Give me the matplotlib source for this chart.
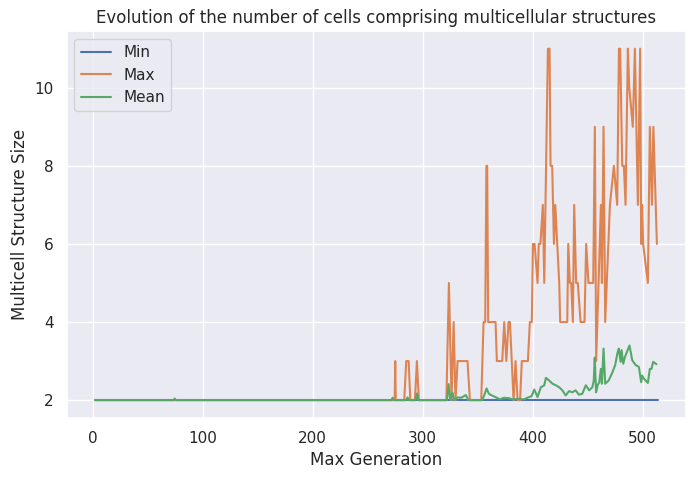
import matplotlib
matplotlib.use("Agg")
import matplotlib.pyplot as plt
import seaborn as sns

# ---- data ----
min_gen = [2, 514]
min_vals = [2, 2]

max_gen = [2, 274.5, 275, 275.5, 283.2, 285, 287.2, 288.7, 292.9, 294.7, 296.5,
           321.5, 323.8, 326.2, 328.1, 329.8, 331.7, 340.7, 342.9, 353.2, 355.3,
           356.8, 357.9, 358.6, 359.5, 366.2, 367.4, 372.3, 374.1, 376, 378, 379.3,
           382.6, 384.4, 386.2, 388.5, 390.1, 395.6, 397.4, 399.2, 400.2, 401.7,
           404.4, 405.5, 407, 409.2, 410.5, 413.8, 415.3, 416.2, 417.7, 419.3,
           420.5, 424.1, 425, 431.4, 432.3, 433.8, 435, 436.5, 437.7, 439.5, 441,
           443.5, 447.1, 448.6, 450.7, 455, 456.5, 457.7, 462, 462.9, 464.4, 465.9,
           470.2, 473.8, 476.8, 478.4, 479.5, 481.4, 482.9, 484.4, 486.5, 487.8,
           491, 492.9, 495.6, 497.7, 498.6, 499.5, 500.4, 504.7, 506.5, 508.4,
           509.7, 512.9]
max_vals = [2, 2, 3, 2, 2, 3, 3, 2, 2, 3, 2,
            2, 5, 2, 4, 2, 3, 3, 2, 2, 4,
            4, 8, 8, 4, 4, 3, 3, 4, 3, 4, 4,
            2, 3, 2, 2, 3, 3, 4, 4, 6, 6,
            5, 6, 6, 7, 5, 11, 11, 8, 8, 6,
            7, 5, 4, 4, 6, 5, 5, 4, 7, 5, 5,
            4, 4, 6, 5, 5, 9, 3, 7, 5, 9, 4,
            7, 8, 7, 11, 11, 8, 8, 7, 11, 10,
            9, 11, 7, 11, 6, 7, 6, 5, 9, 7,
            9, 6]

mean_gen = [2, 73.5, 74.5, 75.5, 271.5, 272.6, 274, 285, 286.2, 287.5, 293.5, 294.7,
            296, 322, 323.5, 325, 327.1, 328.5, 331.7, 335, 339.2, 341.5, 354,
            356, 358, 360, 362, 366, 370, 374, 378, 382, 386, 392, 396.8, 399,
            401.4, 404.4, 407.4, 410.5, 412, 415, 418, 421, 424, 427, 430, 433,
            436, 439, 442, 445, 448.3, 451.3, 454.2, 455.5, 456.4, 457.6, 459,
            460.5, 462, 462.9, 464.4, 465.9, 469, 472, 475, 477, 478.3, 479.9,
            480.8, 482.3, 483.8, 488, 490.5, 493.5, 496.5, 498.6, 499.5, 501,
            504.7, 506.5, 508, 509.5, 512.5]
mean_vals = [2, 2, 2.04, 2, 2, 2.06, 2, 2, 2.07, 2, 2, 2.17,
             2, 2, 2.41, 2, 2.19, 2, 2.07, 2.06, 2.13, 2, 2,
             2.13, 2.3, 2.17, 2.13, 2.08, 2.02, 2.06, 2.05, 2.02, 2.03, 2.02, 2.08, 2.1,
             2.27, 2.08, 2.33, 2.38, 2.57, 2.5, 2.42, 2.38, 2.33, 2.25, 2.12, 2.23,
             2.2, 2.25, 2.14, 2.16, 2.38, 2.25, 2.33, 2.5, 3.09, 2.2, 2.38,
             2.46, 2.8, 2.42, 3.32, 2.42, 2.5, 2.68, 2.9, 3.2, 3.32, 2.98,
             3.28, 2.93, 3.1, 3.4, 3.02, 2.9, 2.85, 2.46, 2.63, 2.55,
             2.44, 2.8, 2.8, 2.98, 2.92]

title = "Evolution of the number of cells comprising multicellular structures"
xlabel = "Max Generation"
ylabel = "Multicell Structure Size"

sns.set_theme(style="darkgrid")
plt.rcParams['font.family'] = ['DejaVu Sans']

fig = plt.figure(figsize=(6.96, 4.79), dpi=100)
ax = fig.add_axes([0.096, 0.128, 0.89, 0.807])

ax.plot(min_gen, min_vals, label="Min")
ax.plot(max_gen, max_vals, label="Max")
ax.plot(mean_gen, mean_vals, label="Mean")

ax.set_title(title)
ax.set_xlabel(xlabel)
ax.set_ylabel(ylabel)
ax.legend(loc="upper left")

fig.savefig("out.png", dpi=100)
